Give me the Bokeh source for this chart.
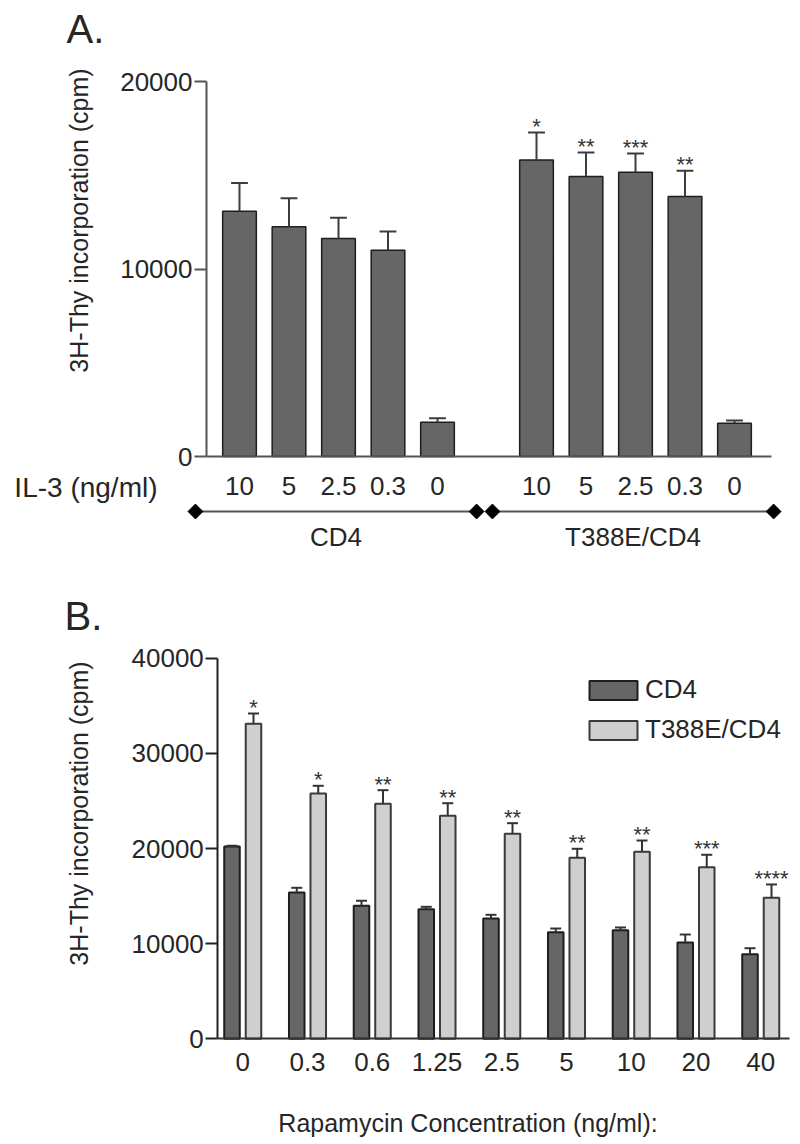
import math
from bokeh.plotting import figure
from bokeh.models import (Range1d, LinearAxis, FixedTicker, ColumnDataSource,
                          Legend, LegendItem, Label)
from bokeh.layouts import column
from bokeh.embed import file_html
from bokeh.resources import INLINE
from bokeh.core.properties import value

# ---------------- data ----------------
# Panel A: IL-3 dose response
il3_labels = ["10", "5", "2.5", "0.3", "0"]
group_names = ["CD4", "T388E/CD4"]
cd4_il3_mean = [13080, 12250, 11630, 11000, 1830]
cd4_il3_err = [1510, 1530, 1100, 1000, 210]
t388_il3_mean = [15820, 14930, 15160, 13870, 1780]
t388_il3_err = [1460, 1280, 1000, 1370, 140]
il3_stars_cd4 = ["", "", "", "", ""]
il3_stars_t388 = ["*", "**", "***", "**", ""]
a_yticks = [0, 10000, 20000]

# Panel B: rapamycin dose response
rapa_labels = ["0", "0.3", "0.6", "1.25", "2.5", "5", "10", "20", "40"]
series_names = ["CD4", "T388E/CD4"]
cd4_rapa_mean = [20200, 15380, 13980, 13620, 12640, 11200, 11420, 10120, 8890]
cd4_rapa_err = [100, 490, 530, 250, 390, 390, 280, 840, 630]
t388_rapa_mean = [33100, 25780, 24700, 23440, 21550, 19020, 19650, 18040, 14820]
t388_rapa_err = [1080, 810, 1430, 1320, 1110, 950, 1190, 1300, 1400]
rapa_stars = ["*", "*", "**", "**", "**", "**", "**", "***", "****"]
b_yticks = [0, 10000, 20000, 30000, 40000]

# ---------------- style ----------------
FONT = value("Liberation Sans")
FONTNAME = "Liberation Sans"
TXT = "#262626"
DARK = "#666666"
LIGHT = "#cfcfcf"
W = 800
H1 = 568
H2 = 576
TOP1 = 0          # page y of top figure
TOP2 = TOP1 + H1  # page y of bottom figure
LEFT = 0


def make_fig(u, v, h, top):
    p = figure(width=W, height=h,
               x_range=Range1d(u(LEFT), u(LEFT + W)),
               y_range=Range1d(v(top + h), v(top)),
               x_axis_type=None, y_axis_type=None,
               toolbar_location=None, output_backend="svg",
               min_border=0, min_border_left=0, min_border_right=0,
               min_border_top=0, min_border_bottom=0,
               outline_line_color=None, background_fill_color="white",
               border_fill_color="white")
    return p


def add_label(p, x, y, text, size, align="left", baseline="middle", angle=0.0, color=TXT):
    p.add_layout(Label(x=x, y=y, text=text, text_font=FONTNAME, text_font_size=size,
                       text_align=align, text_baseline=baseline, angle=angle,
                       text_color=color))


# =============== Panel A ===============
AX0, ADX = 239.0, 49.5            # page px of slot 0, px per slot
AY0, ADY = 456.0, 187.5 / 10000   # page px of value 0, px per unit


def ua(px):
    return (px - AX0) / ADX


def va(py):
    return (AY0 - py) / ADY


pa = make_fig(ua, va, H1, TOP1)

n = len(il3_labels)
xa = list(range(n)) + [i + n + 1 for i in range(n)]
mean_a = cd4_il3_mean + t388_il3_mean
err_a = cd4_il3_err + t388_il3_err
stars_a = il3_stars_cd4 + il3_stars_t388
cap_a = 0.17
src_a = ColumnDataSource(dict(
    x=xa, top=mean_a, hi=[m + e for m, e in zip(mean_a, err_a)],
    xl=[x - cap_a for x in xa], xr=[x + cap_a for x in xa], stars=stars_a))

pa.vbar(x="x", top="top", bottom=0, width=0.68, source=src_a,
        fill_color=DARK, line_color="#1e1e1e", line_width=1.5)
pa.segment(x0="x", y0="top", x1="x", y1="hi", source=src_a,
           line_color="#3c3c3c", line_width=2)
pa.segment(x0="xl", y0="hi", x1="xr", y1="hi", source=src_a,
           line_color="#3c3c3c", line_width=2)
pa.text(x="x", y="hi", text="stars", source=src_a, text_align="center",
        text_baseline="middle", y_offset=-6, text_font=FONT,
        text_font_size="22px", text_color="#333333")

ya = LinearAxis(fixed_location=ua(206), bounds=(a_yticks[0], a_yticks[-1]),
                ticker=FixedTicker(ticks=a_yticks),
                axis_line_color="#555555", axis_line_width=2,
                major_tick_line_color="#555555", major_tick_line_width=2,
                major_tick_out=12, major_tick_in=0,
                minor_tick_line_color=None, major_label_standoff=2,
                major_label_text_font=FONTNAME, major_label_text_font_size="26px",
                major_label_text_color=TXT)
pa.add_layout(ya, "left")

xa_ax = LinearAxis(fixed_location=0, bounds=(ua(206), ua(771)),
                   ticker=FixedTicker(ticks=xa),
                   major_label_overrides={x: lab for x, lab in zip(xa, il3_labels * 2)},
                   axis_line_color="#555555", axis_line_width=2,
                   major_tick_line_color=None, major_tick_out=0, major_tick_in=0,
                   minor_tick_line_color=None, major_label_standoff=20,
                   major_label_text_font=FONTNAME, major_label_text_font_size="26px",
                   major_label_text_color=TXT)
pa.add_layout(xa_ax, "below")

# group brackets
gx0 = [xa[0] - 0.89, xa[n] - 0.89]
gx1 = [xa[n - 1] + 0.79, xa[-1] + 0.79]
gy = va(511)
pa.segment(x0=gx0, y0=[gy, gy], x1=gx1, y1=[gy, gy], line_color="#555555", line_width=2)
pa.scatter(x=gx0 + gx1, y=[gy] * 4, marker="square", angle=math.pi / 4, size=10.5,
           fill_color="black", line_color="black")
for name, a, b in zip(group_names, gx0, gx1):
    add_label(pa, (a + b) / 2, va(536), name, "26px", align="center")

add_label(pa, ua(157), va(487), "IL-3 (ng/ml)", "28px", align="right")
add_label(pa, ua(66), va(28), "A.", "40px")
add_label(pa, ua(78), va(220), "3H-Thy incorporation (cpm)", "25px",
          align="center", angle=math.pi / 2)

# =============== Panel B ===============
BX0, BDX = 242.25, 64.75
BY0, BDY = 1038.3, 95.15 / 10000


def ub(px):
    return (px - BX0) / BDX


def vb(py):
    return (BY0 - py) / BDY


pb = make_fig(ub, vb, H2, TOP2)

m = len(rapa_labels)
xb = list(range(m))
off, bw, cap_b = 0.166, 0.24, 0.085
src_c = ColumnDataSource(dict(
    x=[x - off for x in xb], top=cd4_rapa_mean,
    hi=[a + e for a, e in zip(cd4_rapa_mean, cd4_rapa_err)]))
src_t = ColumnDataSource(dict(
    x=[x + off for x in xb], top=t388_rapa_mean,
    hi=[a + e for a, e in zip(t388_rapa_mean, t388_rapa_err)], stars=rapa_stars))

r_c = pb.vbar(x="x", top="top", bottom=0, width=bw, source=src_c,
              fill_color=DARK, line_color="#1e1e1e", line_width=2)
r_t = pb.vbar(x="x", top="top", bottom=0, width=bw, source=src_t,
              fill_color=LIGHT, line_color="#3a3a3a", line_width=2)
for s in (src_c, src_t):
    s.data["xl"] = [x - cap_b for x in s.data["x"]]
    s.data["xr"] = [x + cap_b for x in s.data["x"]]
    pb.segment(x0="x", y0="top", x1="x", y1="hi", source=s, line_color="#333333", line_width=2)
    pb.segment(x0="xl", y0="hi", x1="xr", y1="hi", source=s, line_color="#333333", line_width=2)
pb.text(x="x", y="hi", text="stars", source=src_t, text_align="center",
        text_baseline="middle", y_offset=-6, text_font=FONT,
        text_font_size="22px", text_color="#333333")

yb = LinearAxis(fixed_location=ub(217.3), bounds=(b_yticks[0], b_yticks[-1]),
                ticker=FixedTicker(ticks=b_yticks),
                axis_line_color="#222222", axis_line_width=2,
                major_tick_line_color="#222222", major_tick_line_width=2,
                major_tick_out=12, major_tick_in=0,
                minor_tick_line_color=None, major_label_standoff=2,
                major_label_text_font=FONTNAME, major_label_text_font_size="26px",
                major_label_text_color=TXT)
pb.add_layout(yb, "left")

xb_ax = LinearAxis(fixed_location=0, bounds=(ub(217.3), ub(789)),
                   ticker=FixedTicker(ticks=xb),
                   major_label_overrides={x: lab for x, lab in zip(xb, rapa_labels)},
                   axis_line_color="#333333", axis_line_width=2,
                   major_tick_line_color=None, major_tick_out=0, major_tick_in=0,
                   minor_tick_line_color=None, major_label_standoff=14,
                   major_label_text_font=FONTNAME, major_label_text_font_size="26px",
                   major_label_text_color=TXT)
pb.add_layout(xb_ax, "below")

legend = Legend(items=[LegendItem(label=series_names[0], renderers=[r_c]),
                       LegendItem(label=series_names[1], renderers=[r_t])],
                location=(583, 399), orientation="vertical",
                glyph_width=60, glyph_height=24, label_height=19,
                label_standoff=2, spacing=9, padding=0, margin=0,
                border_line_color=None, background_fill_alpha=0,
                label_text_font=FONTNAME, label_text_font_size="26px",
                label_text_color=TXT)
pb.add_layout(legend)

add_label(pb, ub(467.5), vb(1122), "Rapamycin Concentration (ng/ml):", "25px",
          align="center")
add_label(pb, ub(64), vb(615), "B.", "40px")
add_label(pb, ub(78), vb(813), "3H-Thy incorporation (cpm)", "25px",
          align="center", angle=math.pi / 2)

layout = column(pa, pb, spacing=0)
open("out.html", "w").write(file_html(layout, INLINE))
